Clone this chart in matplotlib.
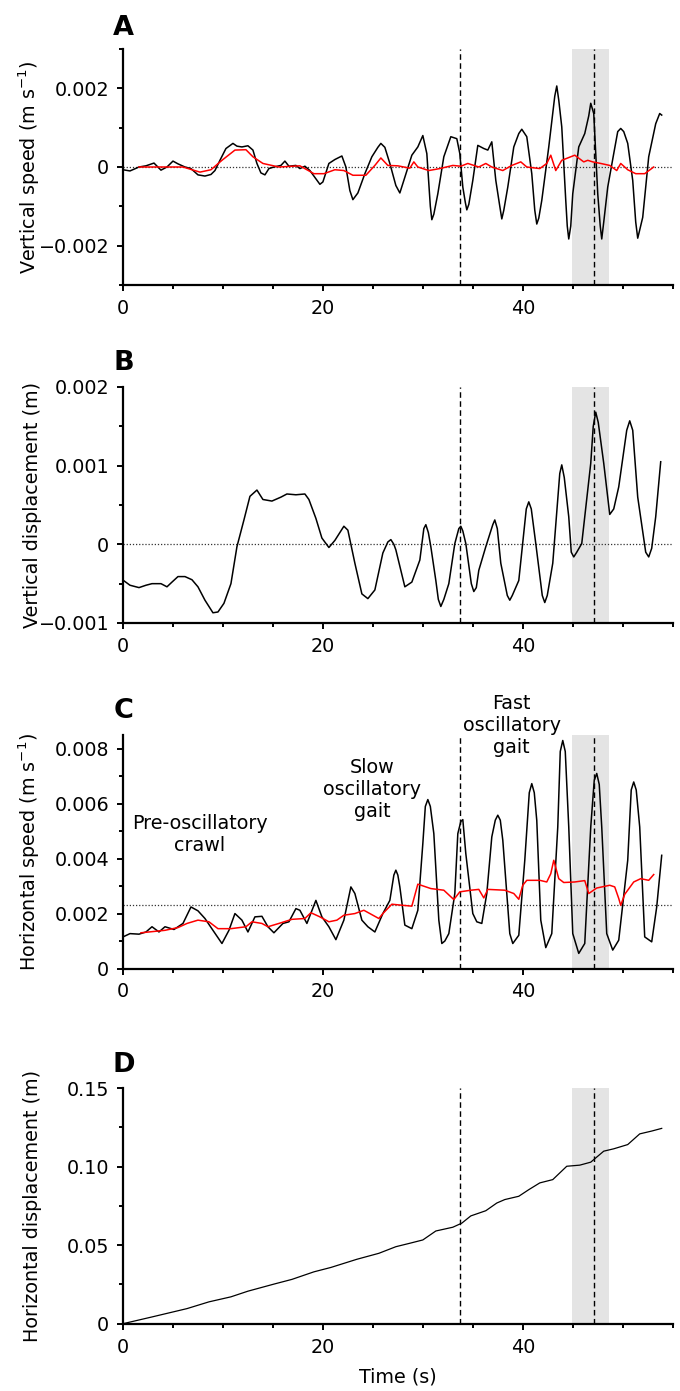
import matplotlib
matplotlib.use("Agg")
from matplotlib import pyplot as plt
from matplotlib.ticker import MultipleLocator, FixedLocator
import numpy as np

plt.rcParams['font.family'] = ['DejaVu Sans']
plt.rcParams['mathtext.default'] = 'regular'

# ---- data (time in s) ----
# A: vertical speed (x1e-3 m/s)
a_t = [0, 0.7, 1.6, 2.3, 3.1, 3.8, 4.4, 5.0, 5.5, 6.2, 6.8, 7.5, 8.2, 8.8, 9.2, 9.7,
       10.3, 11.0, 11.4, 11.9, 12.5, 13.0, 13.4, 13.8, 14.2, 14.6, 15.1, 15.8, 16.2,
       16.6, 17.3, 17.7, 18.2, 18.7, 19.3, 19.7, 20.0, 20.6, 21.2, 21.9, 22.3, 22.7,
       23.0, 23.5, 24.2, 24.9, 25.5, 25.8, 26.2, 26.7, 27.3, 27.7, 28.2, 28.9, 29.5,
       30.0, 30.4, 30.75, 30.9, 31.1, 31.5, 32.1, 32.8, 33.4, 33.7, 34.0, 34.25, 34.4,
       34.6, 35.0, 35.5, 36.1, 36.5, 36.9, 37.3, 37.7, 37.9, 38.1, 38.5, 39.1, 39.6,
       39.9, 40.4, 40.9, 41.2, 41.4, 41.6, 41.9, 42.6, 43.2, 43.4, 43.6, 43.9, 44.3,
       44.45, 44.6, 44.8, 45.0, 45.6, 46.2, 46.6, 46.8, 47.1, 47.5, 47.75, 47.9, 48.1,
       48.5, 49.1, 49.5, 49.8, 50.1, 50.5, 51.0, 51.3, 51.5, 51.7, 52.0, 52.6, 53.3,
       53.7, 53.9]
a_black = [-0.07, -0.1, 0.0, 0.03, 0.1, -0.08, 0.0, 0.15, 0.08, 0.0, -0.04, -0.2, -0.23,
           -0.19, -0.09, 0.17, 0.47, 0.6, 0.53, 0.51, 0.54, 0.43, 0.09, -0.15, -0.2,
           -0.04, 0.0, 0.04, 0.15, 0.02, 0.04, -0.04, 0.02, -0.09, -0.3, -0.44, -0.38,
           0.09, 0.19, 0.28, 0.0, -0.6, -0.83, -0.66, -0.17, 0.26, 0.5, 0.6, 0.5, 0.09,
           -0.47, -0.66, -0.26, 0.3, 0.51, 0.8, 0.34, -1.0, -1.34, -1.2, -0.68, 0.26,
           0.77, 0.72, 0.34, -0.51, -0.9, -1.09, -0.95, -0.34, 0.55, 0.47, 0.43, 0.64,
           -0.34, -1.0, -1.32, -1.1, -0.51, 0.51, 0.85, 0.96, 0.77, -0.17, -1.1, -1.45,
           -1.3, -0.85, 0.51, 1.8, 2.06, 1.7, 1.02, -0.85, -1.5, -1.83, -1.5, -0.68, 0.51,
           0.85, 1.3, 1.62, 1.36, -0.68, -1.5, -1.83, -1.4, -0.51, 0.34, 0.9, 0.98, 0.9,
           0.6, -0.34, -1.4, -1.81, -1.6, -1.28, 0.26, 1.1, 1.36, 1.32]
a_red_t = [1.6, 4.0, 6.0, 7.7, 8.8, 9.9, 11.2, 12.3, 13.0, 14.0, 15.6, 17.7, 19.1, 20.1,
           21.2, 22.1, 23.0, 24.3, 25.2, 25.8, 26.5, 27.5, 28.7, 29.1, 29.5, 30.6, 31.7,
           33.0, 33.8, 34.5, 35.6, 36.3, 36.9, 38.0, 38.9, 39.8, 40.4, 41.7, 42.4, 42.8,
           43.3, 43.9, 45.2, 46.1, 46.5, 47.0, 47.8, 48.7, 49.4, 49.8, 50.5, 51.3, 52.2, 53.1]
a_red = [0.0, 0.0, 0.0, -0.13, -0.07, 0.17, 0.43, 0.44, 0.26, 0.09, 0.0, 0.03, -0.17,
         -0.17, -0.07, -0.09, -0.21, -0.21, 0.04, 0.23, 0.04, 0.03, -0.03, 0.13, 0.0,
         -0.09, -0.04, 0.04, 0.02, 0.09, 0.0, 0.09, 0.0, -0.09, 0.04, 0.13, 0.0, -0.04,
         0.09, 0.3, -0.09, 0.17, 0.3, 0.13, 0.17, 0.13, 0.09, 0.04, -0.09, 0.09, -0.07,
         -0.17, -0.17, 0.0]

# B: vertical displacement (x1e-3 m)
b_t = [0, 0.7, 1.6, 2.3, 2.9, 3.8, 4.4, 4.9, 5.5, 6.2, 6.9, 7.5, 8.2, 9.0, 9.5, 10.1,
       10.8, 11.4, 12.1, 12.7, 13.4, 14.0, 14.9, 15.8, 16.4, 17.3, 18.2, 18.6, 19.3,
       19.9, 20.6, 21.2, 22.1, 22.5, 23.2, 23.9, 24.5, 25.2, 26.0, 26.5, 26.8, 27.1,
       27.3, 28.2, 28.9, 29.7, 30.1, 30.3, 30.55, 30.8, 31.3, 31.55, 31.8, 32.1, 32.6,
       33.2, 33.6, 33.8, 34.0, 34.3, 34.85, 35.1, 35.35, 35.6, 36.3, 37.0, 37.2, 37.45,
       37.8, 38.45, 38.7, 38.95, 39.6, 40.35, 40.6, 40.85, 41.3, 41.95, 42.2, 42.45,
       43.0, 43.7, 43.9, 44.15, 44.6, 44.85, 45.1, 45.4, 45.9, 46.8, 47.05, 47.3, 47.55,
       48.1, 48.7, 49.1, 49.6, 50.4, 50.7, 51.0, 51.5, 52.3, 52.6, 52.9, 53.3, 53.8]
b_disp = [-0.455, -0.52, -0.55, -0.52, -0.5, -0.5, -0.54, -0.48, -0.41, -0.41, -0.45,
          -0.54, -0.71, -0.87, -0.86, -0.75, -0.5, -0.03, 0.31, 0.61, 0.69, 0.57, 0.55,
          0.6, 0.64, 0.63, 0.64, 0.57, 0.33, 0.08, -0.04, 0.05, 0.23, 0.18, -0.24, -0.63,
          -0.69, -0.58, -0.11, 0.03, 0.06, 0.0, -0.07, -0.54, -0.48, -0.2, 0.2, 0.25,
          0.15, -0.03, -0.46, -0.7, -0.79, -0.7, -0.5, 0.01, 0.2, 0.23, 0.17, 0.01, -0.5,
          -0.6, -0.55, -0.33, -0.03, 0.25, 0.31, 0.2, -0.24, -0.65, -0.71, -0.65, -0.46,
          0.45, 0.54, 0.45, 0.01, -0.65, -0.74, -0.65, -0.24, 0.9, 1.01, 0.85, 0.35, -0.1,
          -0.16, -0.1, 0.01, 1.03, 1.5, 1.68, 1.55, 1.03, 0.38, 0.45, 0.73, 1.45, 1.57,
          1.45, 0.6, -0.1, -0.16, -0.05, 0.35, 1.05]

# C: horizontal speed (x1e-3 m/s)
c_t = [0, 0.7, 1.6, 2.3, 2.9, 3.6, 4.2, 5.1, 6.0, 6.8, 7.5, 8.2, 9.0, 9.9, 10.6, 11.2,
       11.9, 12.5, 13.2, 13.9, 14.5, 15.1, 16.0, 16.6, 17.3, 17.7, 18.4, 19.3, 19.9,
       20.6, 21.3, 22.1, 22.8, 23.2, 23.9, 24.5, 25.2, 26.0, 26.7, 27.1, 27.3, 27.5,
       27.7, 28.2, 28.9, 29.5, 30.0, 30.25, 30.5, 30.75, 31.1, 31.6, 31.9, 32.2, 32.6,
       33.2, 33.5, 33.8, 34.0, 34.3, 35.0, 35.4, 35.9, 36.4, 36.9, 37.25, 37.5, 37.75,
       38.0, 38.7, 39.0, 39.6, 40.2, 40.65, 40.9, 41.15, 41.4, 41.8, 42.3, 42.9, 43.5,
       43.75, 44.0, 44.25, 44.6, 45.0, 45.6, 46.2, 46.8, 47.15, 47.4, 47.65, 47.9, 48.4,
       49.0, 49.6, 50.5, 50.85, 51.1, 51.35, 51.7, 52.2, 52.9, 53.4, 53.9]
c_black = [1.15, 1.27, 1.25, 1.33, 1.52, 1.33, 1.52, 1.42, 1.64, 2.24, 2.1, 1.82, 1.39,
           0.91, 1.39, 2.0, 1.76, 1.33, 1.88, 1.9, 1.52, 1.3, 1.64, 1.7, 2.18, 2.12, 1.64,
           2.48, 1.88, 1.52, 1.05, 1.76, 2.97, 2.73, 1.76, 1.52, 1.33, 2.0, 2.48, 3.4,
           3.58, 3.4, 2.97, 1.58, 1.45, 2.12, 4.55, 5.9, 6.15, 5.9, 4.91, 1.76, 0.91, 1.0,
           1.27, 2.73, 4.91, 5.35, 5.42, 4.18, 2.0, 1.7, 1.64, 2.73, 4.79, 5.4, 5.58, 5.4,
           4.67, 1.27, 0.91, 1.21, 3.94, 6.4, 6.73, 6.4, 5.39, 1.76, 0.76, 1.27, 5.15, 7.9,
           8.3, 7.9, 5.15, 1.27, 0.55, 0.91, 5.15, 6.85, 7.1, 6.7, 5.15, 1.27, 0.67, 1.03,
           3.94, 6.5, 6.79, 6.5, 5.15, 1.15, 0.97, 2.24, 4.12]
c_red_t = [1.8, 4.2, 5.5, 6.4, 7.5, 8.6, 9.5, 10.8, 12.3, 12.9, 13.9, 14.5, 15.6, 16.9,
           18.2, 18.8, 19.7, 20.6, 21.4, 22.1, 23.2, 24.1, 24.7, 25.6, 26.0, 26.9, 28.0,
           28.9, 29.5, 30.8, 32.1, 33.1, 33.7, 34.8, 35.6, 36.1, 36.5, 38.2, 39.1, 39.6,
           40.0, 40.4, 41.7, 42.4, 42.8, 43.1, 43.6, 44.1, 45.2, 46.2, 46.6, 47.4, 48.7,
           49.2, 49.6, 49.8, 50.2, 51.1, 51.8, 52.6, 53.1]
c_red = [1.3, 1.39, 1.49, 1.64, 1.76, 1.7, 1.45, 1.45, 1.52, 1.70, 1.64, 1.52, 1.64, 1.79,
         1.82, 2.03, 1.88, 1.70, 1.76, 1.94, 2.0, 2.12, 2.0, 1.82, 2.0, 2.34, 2.30, 2.27,
         3.07, 2.91, 2.85, 2.51, 2.79, 2.85, 2.88, 2.57, 2.88, 2.85, 2.73, 2.52, 3.03,
         3.21, 3.21, 3.15, 3.45, 3.94, 3.27, 3.13, 3.15, 3.2, 2.73, 2.93, 3.03, 2.97, 2.55,
         2.3, 2.7, 3.15, 3.27, 3.21, 3.42]
c_ref = 2.3

# D: horizontal displacement (m)
d_t = [0, 2.9, 6.4, 8.6, 10.8, 12.5, 15.1, 16.9, 19.1, 20.8, 22.1, 23.4, 25.6, 27.3,
       28.7, 30.0, 31.3, 33.0, 33.9, 34.8, 36.3, 37.4, 38.2, 39.6, 40.6, 41.7, 43.0,
       44.4, 45.7, 46.8, 48.1, 49.1, 50.5, 51.7, 52.9, 53.9]
d_disp = [0, 0.0043, 0.0096, 0.0139, 0.0171, 0.0207, 0.0252, 0.0282, 0.033, 0.0358,
          0.0384, 0.041, 0.0448, 0.049, 0.0512, 0.0533, 0.059, 0.0614, 0.064, 0.0686,
          0.0719, 0.0768, 0.079, 0.0811, 0.0853, 0.0896, 0.0917, 0.1002, 0.1009, 0.1028,
          0.1098, 0.1113, 0.114, 0.1208, 0.1226, 0.1243]

gait_change = 33.7
frame_t = 47.1
frame_span = (44.9, 48.6)

FS = 13.8
W, H = 680, 1391

fig = plt.figure(figsize=(W / 100, H / 100), dpi=100)


def make_axes(top_px, bottom_px):
    left = 123 / W
    width = (672.7 - 123) / W
    return fig.add_axes([left, 1 - bottom_px / H, width, (bottom_px - top_px) / H])


def style(ax, ylim, yticks, yminor, yticklabels, ylabel, label_x):
    ax.set_xlim(0, 55)
    ax.set_ylim(*ylim)
    for s in ['top', 'right']:
        ax.spines[s].set_visible(False)
    for s in ['left', 'bottom']:
        ax.spines[s].set_linewidth(1.6)
    ax.xaxis.set_major_locator(FixedLocator([0, 20, 40]))
    ax.xaxis.set_minor_locator(MultipleLocator(5))
    ax.yaxis.set_major_locator(FixedLocator(yticks))
    ax.yaxis.set_minor_locator(MultipleLocator(yminor))
    ax.set_yticklabels(yticklabels)
    ax.tick_params(which='major', direction='out', length=4, width=1.4,
                   labelsize=FS, pad=6, colors='black')
    ax.tick_params(which='minor', direction='out', length=3, width=1.4)
    ax.set_ylabel(ylabel, fontsize=FS)
    ax.yaxis.set_label_coords(label_x, 0.5)
    ax.axvspan(*frame_span, color='#e4e4e4', lw=0, zorder=0)
    ax.axvline(gait_change, color='black', lw=1.0, ls=(0, (4, 2.5)), zorder=1)
    ax.axvline(frame_t, color='black', lw=1.0, ls=(0, (4, 2.5)), zorder=1)


scale = 1e-3
LX = -0.148

# Panel A
axA = make_axes(49, 285)
axA.axhline(0, color='#333333', lw=0.9, ls=(0, (1, 1.5)), zorder=1)
axA.plot(a_t, np.array(a_black) * scale, color='black', lw=1.1, zorder=3)
axA.plot(a_red_t, np.array(a_red) * scale, color='#ff0000', lw=1.1, zorder=4)
style(axA, (-0.003, 0.003), [-0.002, 0, 0.002], 0.001, ['\u22120.002', '0', '0.002'],
      'Vertical speed (m s$^{\u22121}$)', LX)

# Panel B
axB = make_axes(387, 623)
axB.axhline(0, color='#333333', lw=0.9, ls=(0, (1, 1.5)), zorder=1)
axB.plot(b_t, np.array(b_disp) * scale, color='black', lw=1.1, zorder=3)
style(axB, (-0.001, 0.002), [-0.001, 0, 0.001, 0.002], 0.0005,
      ['\u22120.001', '0', '0.001', '0.002'], 'Vertical displacement (m)', LX)

# Panel C
axC = make_axes(735, 968.5)
axC.axhline(c_ref * scale, color='#333333', lw=0.9, ls=(0, (1, 1.5)), zorder=1)
axC.plot(c_t, np.array(c_black) * scale, color='black', lw=1.1, zorder=3)
axC.plot(c_red_t, np.array(c_red) * scale, color='#ff0000', lw=1.1, zorder=4)
style(axC, (0, 0.0085), [0, 0.002, 0.004, 0.006, 0.008], 0.001,
      ['0', '0.002', '0.004', '0.006', '0.008'], 'Horizontal speed (m s$^{\u22121}$)', LX)
axC.text(7.7, 0.00487, 'Pre-oscillatory\ncrawl', ha='center', va='center', fontsize=FS)
axC.text(24.9, 0.00653, 'Slow\noscillatory\ngait', ha='center', va='center', fontsize=FS)
axC.text(38.9, 0.00886, 'Fast\noscillatory\ngait', ha='center', va='center',
         fontsize=FS, clip_on=False)

# Panel D
axD = make_axes(1088, 1323.7)
axD.plot(d_t, d_disp, color='black', lw=0.9, zorder=3)
style(axD, (0, 0.15), [0, 0.05, 0.10, 0.15], 0.025, ['0', '0.05', '0.10', '0.15'],
      'Horizontal displacement (m)', LX)
axD.set_xlabel('Time (s)', fontsize=FS)
axD.xaxis.set_label_coords(0.5, -0.184)
axD.xaxis.label.set_va('top')

for letter, base in zip('ABCD', [35, 370, 718, 1072]):
    fig.text(123.5 / W, 1 - base / H, letter, ha='center', va='baseline',
             fontsize=19.5, fontweight='bold')

fig.savefig('out.png', dpi=100)
